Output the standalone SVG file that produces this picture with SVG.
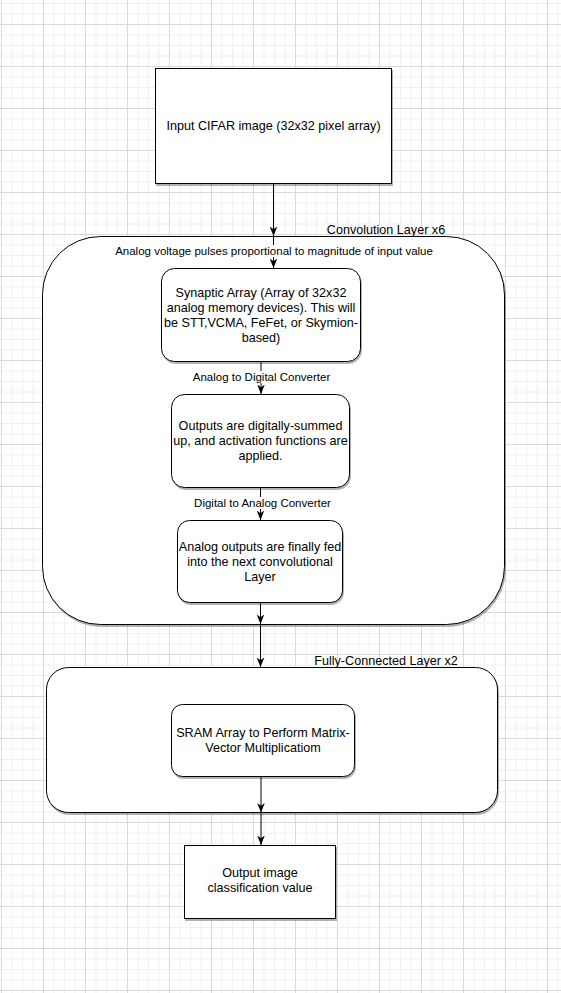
<svg xmlns="http://www.w3.org/2000/svg" width="561" height="993" viewBox="0 0 561 993">
<style>
.node{fill:#ffffff;stroke:#000000;stroke-width:1;filter:url(#sh)}
.t{font-family:"Liberation Sans",Arial,Helvetica,sans-serif;font-size:12.6px;fill:#000000;text-anchor:middle}
.el{font-family:"Liberation Sans",Arial,Helvetica,sans-serif;font-size:11.5px;fill:#000000;text-anchor:middle}
.ln{stroke:#000000;stroke-width:1;fill:none;marker-end:url(#arr)}
.lbg{fill:#ffffff}
</style>
<defs>
<pattern id="grid" patternUnits="userSpaceOnUse" x="1" y="24" width="42" height="42">
<path d="M11,0V42M21.5,0V42M32,0V42M0,11H42M0,21.5H42M0,32H42" stroke="#f0f0f0" stroke-width="1" fill="none"/>
<path d="M0.5,0V42M0,0.5H42" stroke="#dadada" stroke-width="1" fill="none"/>
</pattern>
<filter id="sh" x="-5%" y="-5%" width="115%" height="115%">
<feDropShadow dx="1" dy="2" stdDeviation="0.6" flood-color="#000000" flood-opacity="0.3"/>
</filter>
<marker id="arr" viewBox="0 0 10 8" refX="10" refY="4" markerWidth="9.5" markerHeight="8" orient="auto" markerUnits="userSpaceOnUse">
<path d="M0,0 L10,4 L0,8 L2.8,4 Z" fill="#000000"/>
</marker>
</defs>
<rect x="0" y="0" width="561" height="993" fill="#ffffff"/>
<rect x="0" y="0" width="561" height="993" fill="url(#grid)"/>

<g id="conv-layer">
<rect class="node" x="42.5" y="236.5" width="462" height="388" rx="58" ry="58"/>
<text class="t" x="386" y="234">Convolution Layer x6</text>
</g>
<g id="fc-layer">
<rect class="node" x="46.5" y="667.5" width="451" height="145" rx="22" ry="22"/>
<text class="t" x="386" y="664.5">Fully-Connected Layer x2</text>
</g>

<g id="input">
<rect class="node" x="155.5" y="68.5" width="236" height="115"/>
<text class="t" x="273.5" y="129.5">Input CIFAR image (32x32 pixel array)</text>
</g>
<g id="synaptic">
<rect class="node" x="161.5" y="268.5" width="199" height="93" rx="13" ry="13"/>
<text class="t" x="261" y="296.5">Synaptic Array (Array of 32x32</text>
<text class="t" x="261" y="311.5">analog memory devices). This will</text>
<text class="t" x="261" y="326.5">be STT,VCMA, FeFet, or Skymion-</text>
<text class="t" x="261" y="341.5">based)</text>
</g>
<g id="digital-sum">
<rect class="node" x="171.5" y="394.5" width="178" height="93" rx="13" ry="13"/>
<text class="t" x="260.5" y="430">Outputs are digitally-summed</text>
<text class="t" x="260.5" y="445">up, and activation functions are</text>
<text class="t" x="260.5" y="460">applied.</text>
</g>
<g id="analog-out">
<rect class="node" x="177.5" y="520.5" width="165" height="82" rx="12" ry="12"/>
<text class="t" x="260" y="550.5">Analog outputs are finally fed</text>
<text class="t" x="260" y="565.5">into the next convolutional</text>
<text class="t" x="260" y="580.5">Layer</text>
</g>
<g id="sram">
<rect class="node" x="171.5" y="704.5" width="183" height="72" rx="11" ry="11"/>
<text class="t" x="263" y="737">SRAM Array to Perform Matrix-</text>
<text class="t" x="263" y="752">Vector Multiplicatiom</text>
</g>
<g id="output">
<rect class="node" x="184.5" y="845.5" width="151" height="73"/>
<text class="t" x="260" y="877">Output image</text>
<text class="t" x="260" y="892">classification value</text>
</g>

<g id="connectors">
<path class="ln" d="M273.5,184 V236"/>
<path class="ln" d="M273.5,236 V268"/>
<path class="ln" d="M261,362 V394"/>
<path class="ln" d="M260.5,488 V520"/>
<path class="ln" d="M260.5,603 V624"/>
<path class="ln" d="M260.5,624 V667"/>
<path class="ln" d="M261,777 V812.5"/>
<path class="ln" d="M261,812.5 V845"/>
<rect class="lbg" x="113" y="245" width="322" height="12"/>
<text class="el" x="274" y="254.5">Analog voltage pulses proportional to magnitude of input value</text>
<rect class="lbg" x="191" y="371" width="141" height="12"/>
<text class="el" x="261.5" y="380.5">Analog to Digital Converter</text>
<rect class="lbg" x="193" y="497" width="139" height="12"/>
<text class="el" x="262.5" y="506.5">Digital to Analog Converter</text>
</g>
</svg>
